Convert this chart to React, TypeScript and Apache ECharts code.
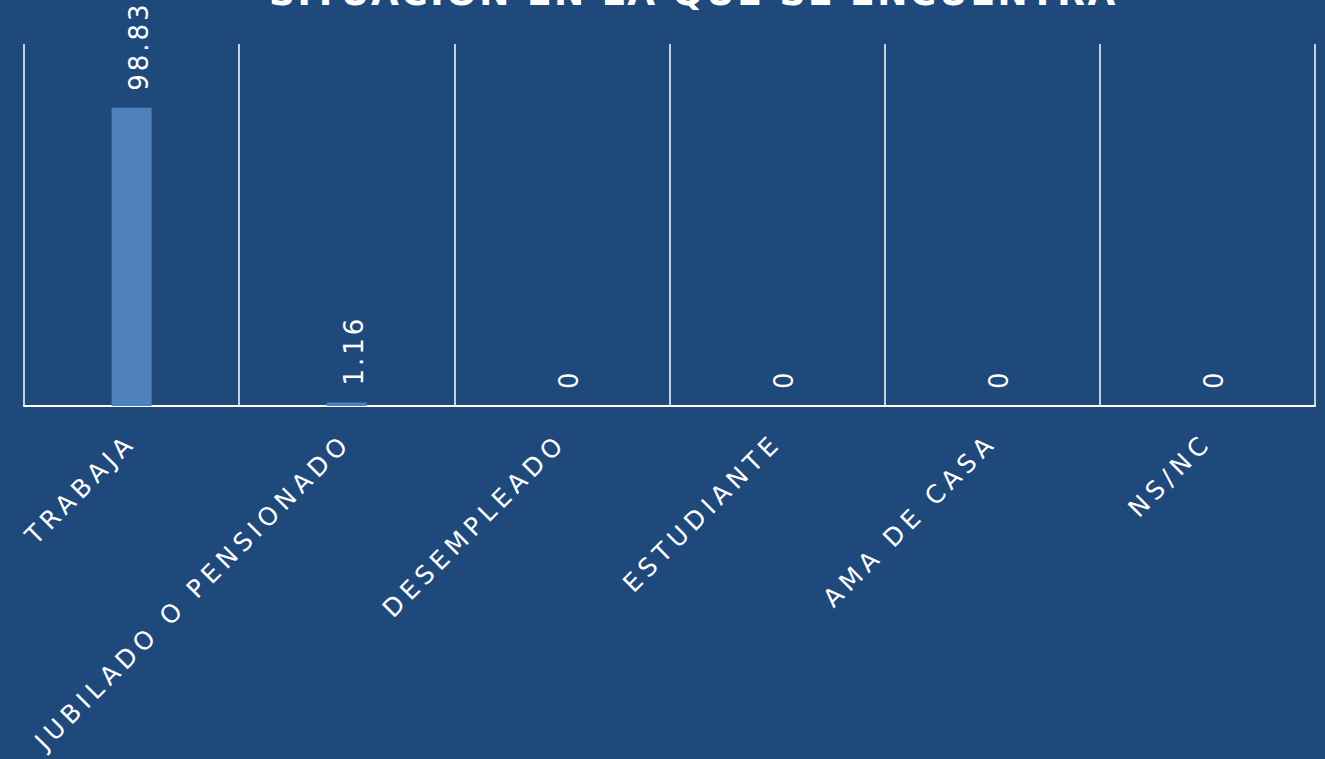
import React, { useEffect, useRef } from "react";
import * as echarts from "echarts";

const titleText = "SITUACIÓN EN LA QUE SE ENCUENTRA";
const categories = [
  "TRABAJA",
  "JUBILADO O PENSIONADO",
  "DESEMPLEADO",
  "ESTUDIANTE",
  "AMA DE CASA",
  "NS/NC",
];
const values = [98.83, 1.16, 0, 0, 0, 0];

const BG = "#20497B";
const BAR = "#4F81BD";

export default function App() {
  const ref = useRef<HTMLDivElement>(null);
  useEffect(() => {
    if (!ref.current) return;
    const chart = echarts.init(ref.current, null, { renderer: "svg" });
    chart.setOption({
      animation: false,
      backgroundColor: BG,
      title: {
        text: titleText,
        left: 264,
        top: -31,
        textStyle: {
          color: "#ffffff",
          fontFamily: "DejaVu Sans",
          fontSize: 36,
          fontWeight: "bold",
        },
      },
      grid: { left: 24, right: 10, top: 44, bottom: 353, containLabel: false },
      xAxis: {
        type: "category",
        data: categories,
        boundaryGap: true,
        axisLine: { show: true, lineStyle: { color: "#ffffff", width: 2 } },
        axisTick: { show: false },
        splitLine: { show: true, lineStyle: { color: "#ffffff", width: 1.5 } },
        axisLabel: {
          rotate: 45,
          interval: 0,
          margin: 32,
          color: "#ffffff",
          fontFamily: "DejaVu Sans",
          fontSize: 25,
        },
      },
      yAxis: {
        type: "value",
        min: 0,
        max: 120,
        show: false,
        splitLine: { show: false },
      },
      series: [
        {
          type: "bar",
          data: values,
          barWidth: 40,
          itemStyle: { color: BAR },
          label: {
            show: true,
            position: "top",
            rotate: 90,
            align: "left",
            verticalAlign: "middle",
            distance: 17,
            offset: [0, 7],
            color: "#ffffff",
            fontFamily: "DejaVu Sans",
            fontSize: 26,
          },
        },
      ],
    });
    return () => chart.dispose();
  }, []);
  return (
    <>
      <style>{`
        #chart-box text[style*="25px"] { letter-spacing: 5.3px; }
        #chart-box text[style*="26px"] { letter-spacing: 3px; }
        #chart-box text[style*="36px"] { letter-spacing: 2.5px; }
      `}</style>
      <div
        id="chart-box"
        ref={ref}
        style={{ position: "fixed", left: 0, top: 0, width: 1325, height: 759 }}
      />
    </>
  );
}
